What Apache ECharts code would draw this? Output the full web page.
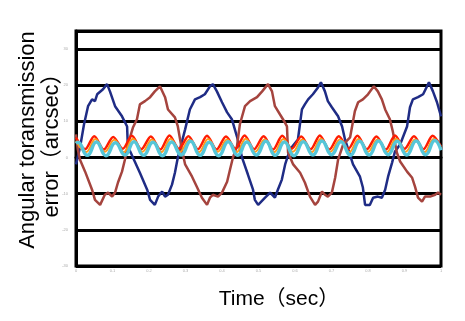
<!DOCTYPE html>
<html>
<head>
<meta charset="utf-8">
<script src="https://cdn.jsdelivr.net/npm/echarts@6/dist/echarts.min.js"></script>
<style>
  html, body { margin: 0; padding: 0; background: #fff; }
  #chart { width: 465px; height: 321px; }
</style>
</head>
<body>
<div id="chart"></div>
<script>
// time in seconds, error in arcsec
var blueLine = [[0,-1.9],[.011,2.8],[.022,9.2],[.033,14.2],[.044,16.1],[.052,15.6],[.058,17.5],[.074,18.9],[.085,20.3],
  [.093,18.3],[.107,14.2],[.126,11.4],[.140,8.6],[.142,3.1],[.156,0],[.175,-4.2],[.195,-8.9],[.203,-11.7],[.216,-13.1],
  [.225,-10.8],[.236,-9.4],[.244,-10.8],[.252,-10.3],[.263,-7.5],[.271,-4.2],[.279,0],[.299,7.8],[.312,13.3],[.326,16.1],
  [.340,16.7],[.353,17.5],[.367,19.7],[.375,20.3],[.386,18.3],[.400,15.3],[.414,12.5],[.427,10.6],[.441,5.8],[.455,0],
  [.471,-4.7],[.485,-8.9],[.490,-11.7],[.499,-13.1],[.518,-11.1],[.532,-9.7],[.545,-11.1],[.553,-8.9],[.564,-6.1],
  [.573,-1.9],[.586,2.2],[.608,5.0],[.619,13.3],[.627,14.7],[.636,16.1],[.649,17.5],[.663,19.4],[.671,20.8],[.682,18.3],
  [.690,15.6],[.701,13.9],[.718,11.4],[.729,8.6],[.737,5.0],[.759,-1.9],[.778,-5.3],[.786,-8.3],[.792,-13.1],[.805,-13.1],
  [.814,-11.1],[.827,-10.8],[.838,-11.1],[.847,-8.9],[.855,-5.3],[.866,-1.4],[.874,1.7],[.888,3.6],[.907,8.6],[.915,13.9],
  [.923,16.1],[.937,16.7],[.951,17.5],[.967,20.8],[.978,18.3],[.989,15.3],[1.0,11.4]];

var brownLine = [[0,6.4],[.005,2.2],[.011,-0.6],[.025,-3.9],[.044,-8.9],[.052,-11.7],[.066,-13.1],[.079,-10.3],[.088,-9.7],
  [.099,-10.8],[.107,-9.7],[.115,-6.9],[.126,-3.9],[.134,-0.6],[.142,3.6],[.156,8.3],[.167,10.6],[.175,14.7],[.189,15.6],
  [.203,16.7],[.216,18.3],[.230,19.7],[.244,16.7],[.252,13.3],[.271,11.1],[.279,8.6],[.290,2.2],[.299,-1.9],[.318,-5.3],
  [.332,-8.3],[.345,-11.1],[.359,-13.1],[.367,-11.1],[.375,-10.3],[.389,-10.8],[.400,-9.7],[.414,-6.7],[.422,-3.3],
  [.430,0],[.441,3.1],[.449,9.2],[.463,14.2],[.477,15.6],[.496,16.7],[.510,18.3],[.526,20.3],[.537,18.3],[.545,14.2],
  [.559,11.9],[.567,10.6],[.578,8.6],[.581,1.4],[.595,-1.9],[.614,-4.2],[.627,-6.9],[.641,-10.8],[.655,-13.1],[.663,-12.2],
  [.674,-9.4],[.682,-10.3],[.690,-10.8],[.701,-9.7],[.710,-5.6],[.718,-0.6],[.732,3.6],[.751,5.6],[.764,12.8],[.773,15.3],
  [.786,16.1],[.800,17.5],[.816,19.7],[.827,18.3],[.838,16.1],[.847,13.3],[.860,10.6],[.868,7.2],[.879,1.4],[.888,-1.1],
  [.907,-3.9],[.921,-5.6],[.929,-8.1],[.937,-11.1],[.948,-12.2],[.956,-10.8],[.970,-10.8],[.984,-10.3],[.992,-9.7],[1.0,-10.3]];

var redRipple = [[0,5.5],[.025,2.3],[.050,5.9],[.076,2.2],[.102,5.7],[.128,2.4],[.153,6.0],[.179,2.3],[.205,5.8],[.231,2.2],
  [.256,6.1],[.282,2.4],[.308,5.9],[.334,2.3],[.359,6.0],[.385,2.2],[.411,5.8],[.437,2.4],[.462,6.1],[.488,2.3],[.514,5.9],
  [.540,2.2],[.565,6.0],[.591,2.4],[.617,5.8],[.643,2.3],[.668,6.1],[.694,2.2],[.720,5.9],[.746,2.4],[.771,6.0],[.797,2.3],
  [.823,5.8],[.849,2.2],[.874,6.1],[.900,2.4],[.926,5.9],[.952,2.3],[.977,6.0],[1.0,3.0]];

var orangeRipple = [[0,4.6],[.028,1.5],[.053,5.1],[.079,1.6],[.105,4.9],[.131,1.5],[.156,5.2],[.182,1.6],[.208,5.0],[.234,1.5],
  [.259,5.2],[.285,1.6],[.311,5.0],[.337,1.5],[.362,5.1],[.388,1.6],[.414,5.0],[.440,1.5],[.465,5.2],[.491,1.6],[.517,5.0],
  [.543,1.5],[.568,5.1],[.594,1.6],[.620,5.0],[.646,1.5],[.671,5.2],[.697,1.6],[.723,5.0],[.749,1.5],[.774,5.1],[.800,1.6],
  [.826,5.0],[.852,1.5],[.877,5.2],[.903,1.6],[.929,5.0],[.955,1.5],[.980,5.1],[1.0,2.5]];

var cyanRipple = [[0,3.9],[.005,4.2],[.031,0.6],[.056,4.3],[.082,0.5],[.108,4.1],[.134,0.7],[.159,4.4],[.185,0.6],[.211,4.2],
  [.237,0.5],[.262,4.3],[.288,0.7],[.314,4.5],[.340,0.6],[.365,4.2],[.391,0.5],[.417,4.4],[.443,0.6],[.468,4.3],[.494,0.7],
  [.520,4.5],[.546,0.6],[.571,4.3],[.597,0.5],[.623,4.4],[.649,0.7],[.674,4.6],[.700,0.8],[.726,4.4],[.752,0.6],[.777,4.5],
  [.803,0.7],[.829,4.6],[.855,0.8],[.880,4.5],[.906,0.7],[.932,4.6],[.958,0.8],[.983,4.7],[1.0,2.0]];

var timeRange = [0, 1, 0.1];
var errRange = [-30, 35, 10];

var chart = echarts.init(document.getElementById('chart'));
var titleFont = '"Liberation Sans", Arial, "Noto Sans CJK JP", sans-serif';

var option = {
  animation: false,
  grid: {
    left: 76, right: 24, top: 31, bottom: 55,
    show: true, borderColor: '#000', borderWidth: 3
  },
  xAxis: {
    type: 'value',
    min: timeRange[0], max: timeRange[1], interval: timeRange[2],
    axisLine: { show: true, lineStyle: { color: '#000', width: 3 } },
    axisTick: { show: false },
    splitLine: { show: false },
    axisLabel: { fontSize: 4, color: '#aaa', margin: 3 }
  },
  yAxis: {
    type: 'value',
    min: errRange[0], max: errRange[1], interval: errRange[2],
    axisLine: { show: true, lineStyle: { color: '#000', width: 3 } },
    axisTick: { show: false },
    splitLine: { show: true, lineStyle: { color: '#000', width: 3 } },
    axisLabel: { fontSize: 4, color: '#aaa', margin: 8, showMaxLabel: false }
  },
  graphic: [
    {
      type: 'text', x: 40, y: 140, rotation: Math.PI / 2,
      style: {
        text: 'Angular toransmission\nerror（arcsec）',
        font: '22px ' + titleFont, fill: '#000',
        textAlign: 'center', textVerticalAlign: 'middle', lineHeight: 24
      }
    },
    {
      type: 'text', x: 279, y: 299,
      style: {
        text: 'Time（sec）',
        font: '21px ' + titleFont, fill: '#000',
        textAlign: 'center', textVerticalAlign: 'middle'
      }
    }
  ],
  series: [
    { type: 'line', data: blueLine, showSymbol: false, lineStyle: { color: '#1f2c85', width: 2.5 } },
    { type: 'line', data: brownLine, showSymbol: false, lineStyle: { color: '#a5443e', width: 2.5 } },
    { type: 'line', data: redRipple, showSymbol: false, smooth: 0.3, lineStyle: { color: '#ff1c00', width: 2.5 } },
    { type: 'line', data: orangeRipple, showSymbol: false, smooth: 0.4, lineStyle: { color: '#ff9a1a', width: 2 } },
    { type: 'line', data: cyanRipple, showSymbol: false, smooth: 0.5, lineStyle: { color: '#56c6d8', width: 3.5 } }
  ]
};

chart.setOption(option);
</script>
</body>
</html>
